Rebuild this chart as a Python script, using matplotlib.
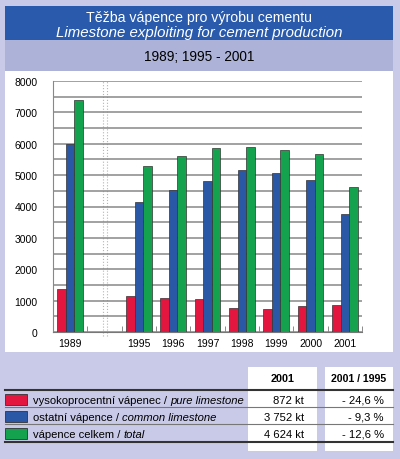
import matplotlib
matplotlib.use('Agg')
import matplotlib.pyplot as plt
from matplotlib.patches import Rectangle
from matplotlib.lines import Line2D
import numpy as np

plt.rcParams['font.family'] = ['Liberation Sans', 'DejaVu Sans']

# data (kt)
years = ['1989', '1995', '1996', '1997', '1998', '1999', '2000', '2001']
pure = [1370, 1160, 1085, 1050, 765, 735, 840, 872]
common = [6000, 4140, 4510, 4810, 5150, 5060, 4840, 3752]
total = [7380, 5290, 5600, 5860, 5900, 5800, 5680, 4624]

row_names = ['vysokoprocentní vápenec / ', 'ostatní vápence / ', 'vápence celkem / ']
row_names_en = ['pure limestone', 'common limestone', 'total']
val_2001 = ['872 kt', '3 752 kt', '4 624 kt']
change = ['- 24,6 %', '- 9,3 %', '- 12,6 %']

c_red = '#e2163e'
c_blue = '#2b58a6'
c_green = '#14a24e'
colors = [c_red, c_blue, c_green]

W, H = 400, 460
fig = plt.figure(figsize=(4, 4.6), dpi=100, facecolor='#c8cae8')


def fx(px):
    return px / W


def fy(py):
    return 1 - py / H


def box(x0, y0, x1, y1, color, z=-1, **kw):
    fig.add_artist(Rectangle((fx(x0), fy(y1)), fx(x1) - fx(x0), fy(y0) - fy(y1),
                             transform=fig.transFigure, facecolor=color, zorder=z,
                             edgecolor=kw.pop('ec', 'none'), **kw))


def hline(y, x0, x1, color, lw):
    fig.add_artist(Line2D([fx(x0), fx(x1)], [fy(y), fy(y)], transform=fig.transFigure,
                          color=color, lw=lw))


# header boxes
box(5, 7, 393, 41, '#2a5aab')
box(5, 41, 393, 72, '#adb3d8')
box(5, 72, 393, 353, 'white')
fig.text(fx(199), fy(18), 'Těžba vápence pro výrobu cementu', color='white',
         ha='center', va='center', fontsize=10.2)
fig.text(fx(199), fy(33), 'Limestone exploiting for cement production', color='white',
         ha='center', va='center', fontsize=10.8, style='italic')
fig.text(fx(199), fy(57), '1989; 1995 - 2001', color='black',
         ha='center', va='center', fontsize=9.8)

# chart
ax = fig.add_axes([fx(53), fy(333), fx(362) - fx(53), fy(82) - fy(333)])
ax.set_facecolor('white')
pos = np.array([0] + list(range(2, 2 + len(years) - 1)))
bw = 0.25
for k, (vals, c) in enumerate(zip([pure, common, total], colors)):
    ax.bar(pos + (k - 1) * bw, vals, bw, color=c, edgecolor='#333333', linewidth=0.5, zorder=3)

ax.set_xlim(-0.5, 8.5)
ax.set_ylim(0, 8000)
ax.set_yticks(range(0, 8001, 1000))
ax.set_yticks(range(500, 8000, 1000), minor=True)
ax.grid(True, axis='y', which='both', color='#888888', lw=1.1, zorder=0)
ax.set_xticks(pos)
ax.set_xticklabels(years)
ax.set_xticks(np.arange(0.5, 8.6, 1), minor=True)
ax.tick_params(axis='x', which='major', length=0, labelsize=7.5, pad=4)
ax.tick_params(axis='x', which='minor', direction='in', length=4, color='#777777')
ax.tick_params(axis='y', which='both', length=0, labelsize=7.5, pad=11)
for s in ['top', 'right']:
    ax.spines[s].set_visible(False)
ax.spines['left'].set_color('#888888')
ax.spines['bottom'].set_color('#777777')
for xv in [0.95, 1.07]:
    ax.axvline(xv, ymin=-0.015, ymax=1, color='#b5b5b5', ls=':', lw=0.8, clip_on=False, zorder=1)

# table
box(248, 368, 317, 452, 'white')
box(325, 368, 393, 452, 'white')
fig.text(fx(283), fy(379), '2001', ha='center', va='center', fontsize=7.8, weight='bold')
fig.text(fx(359), fy(379), '2001 / 1995', ha='center', va='center', fontsize=7.6, weight='bold')
hline(391, 5, 393, '#333333', 1.5)
hline(408, 5, 393, '#777777', 0.8)
hline(425, 5, 393, '#777777', 0.8)
hline(443, 5, 393, '#333333', 1.5)

fig.canvas.draw()
renderer = fig.canvas.get_renderer()
row_y = [400, 417, 434]
for i in range(3):
    y = row_y[i]
    box(5, y - 5.5, 27, y + 5.5, colors[i], z=1, ec='#333333', lw=0.6)
    t = fig.text(fx(33), fy(y), row_names[i], ha='left', va='center_baseline', fontsize=8.1)
    bb = t.get_window_extent(renderer)
    fig.text(bb.x1 / fig.bbox.width, fy(y), row_names_en[i], ha='left',
             va='center_baseline', fontsize=8.1, style='italic')
    fig.text(fx(304), fy(y), val_2001[i], ha='right', va='center_baseline', fontsize=8.1)
    fig.text(fx(384), fy(y), change[i], ha='right', va='center_baseline', fontsize=8.1)

fig.savefig('out.png', dpi=100, facecolor=fig.get_facecolor())
